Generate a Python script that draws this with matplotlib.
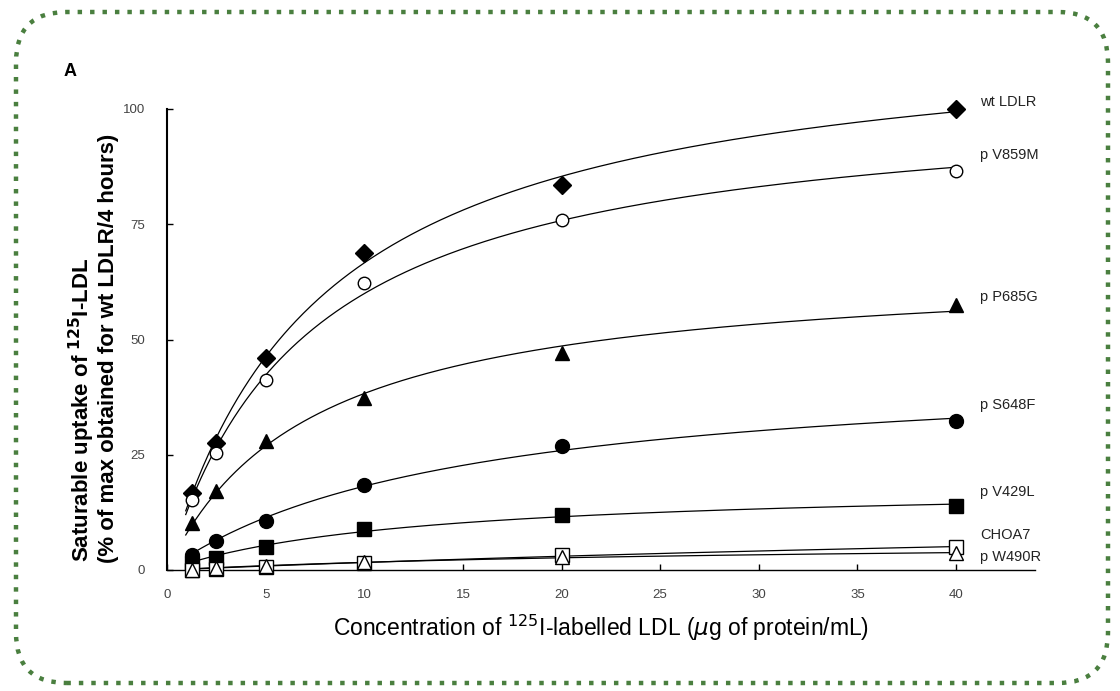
import numpy as np
import matplotlib
matplotlib.use("Agg")
import matplotlib.pyplot as plt
from matplotlib.patches import FancyBboxPatch

plt.rcParams['font.family'] = ['Liberation Sans', 'DejaVu Sans']

# ---------------- data ----------------
conc = [1.25, 2.5, 5, 10, 20, 40]
series_names = ["wt LDLR", "p V859M", "p P685G", "p S648F", "p V429L", "CHOA7", "p W490R"]
wt_ldlr = [16.7, 27.5, 46.0, 68.8, 83.5, 100.0]
p_v859m = [15.2, 25.4, 41.2, 62.3, 76.0, 86.5]
p_p685g = [10.2, 17.1, 28.0, 37.3, 47.0, 57.5]
p_s648f = [3.3, 6.3, 10.6, 18.4, 27.0, 32.3]
p_v429l = [1.5, 2.6, 5.0, 8.9, 12.0, 13.9]
choa7 = [0.0, 0.3, 0.7, 1.5, 3.3, 5.0]
p_w490r = [0.0, 0.4, 0.9, 1.7, 2.8, 3.7]
x_ticks = [0, 5, 10, 15, 20, 25, 30, 35, 40]
y_ticks = [0, 25, 50, 75, 100]

all_series = [wt_ldlr, p_v859m, p_p685g, p_s648f, p_v429l, choa7, p_w490r]

# styles (marker, facecolor)
styles = [("D", "black"), ("o", "white"), ("^", "black"), ("o", "black"),
          ("s", "black"), ("s", "white"), ("^", "white")]
msizes = [9, 9, 10.5, 10, 10, 9.5, 9.5]
label_y = [101.5, 90.0, 59.2, 35.8, 16.9, 7.6, 2.8]


def fit_hyperbola(x, y):
    x = np.asarray(x, float)
    y = np.asarray(y, float)
    best = None
    for K in np.logspace(-1, 3, 2000):
        f = x / (K + x)
        B = np.dot(y, f) / np.dot(f, f)
        err = np.sum((y - B * f) ** 2)
        if best is None or err < best[0]:
            best = (err, B, K)
    return best[1], best[2]


fig = plt.figure(figsize=(11.2, 6.91), dpi=100)
ax = fig.add_axes([167 / 1120, 1 - 570 / 691, (1035 - 167) / 1120, (570 - 109) / 691])

xc = np.linspace(0.95, 40, 400)
for ys, (mk, fc), ms, name, ly in zip(all_series, styles, msizes, series_names, label_y):
    B, K = fit_hyperbola(conc, ys)
    ax.plot(xc, B * xc / (K + xc), color="black", lw=0.9, zorder=2)
    ax.plot(conc, ys, linestyle="none", marker=mk, markersize=ms,
            markerfacecolor=fc, markeredgecolor="black", markeredgewidth=1.0,
            zorder=3, clip_on=False)
    ax.text(41.2, ly, name, fontsize=10.5, color="#222222", va="center", ha="left")

ax.set_xlim(0, 44)
ax.set_ylim(0, 100)
ax.set_xticks(x_ticks)
ax.set_yticks(y_ticks)
ax.set_xticklabels([str(t) for t in x_ticks])
ax.set_yticklabels([str(t) for t in y_ticks])
ax.spines['top'].set_visible(False)
ax.spines['right'].set_visible(False)
ax.spines['left'].set_linewidth(1.5)
ax.spines['bottom'].set_linewidth(1.0)
ax.tick_params(direction='in', length=4, width=1, labelsize=9.5,
               labelcolor="#444444", pad=14)
ax.tick_params(axis='y', pad=16)

ax.set_xlabel("Concentration of $^{125}$I-labelled LDL ($\\mu$g of protein/mL)",
              fontsize=16.5, labelpad=8)

fig.text(82 / 1120, 1 - 562 / 691, "Saturable uptake of $^{\\mathbf{125}}$I-LDL",
         rotation=90, fontsize=16, fontweight="bold", ha="center", va="bottom")
fig.text(109 / 1120, 1 - 563 / 691, "(% of max obtained for wt LDLR/4 hours)",
         rotation=90, fontsize=16, fontweight="bold", ha="center", va="bottom")

fig.text(70 / 1120, 1 - 72 / 691, "A", fontsize=13, fontweight="bold",
         ha="center", va="center")

border = FancyBboxPatch((16 / 1120, 8 / 691), (1108 - 16) / 1120, (679 - 8) / 691,
                        boxstyle="round,pad=0,rounding_size=0.045",
                        transform=fig.transFigure, fill=False,
                        edgecolor="#4a7f3f", linewidth=3.2,
                        linestyle=(0, (1, 1.8)), mutation_aspect=1120 / 691)
fig.patches.append(border)

fig.savefig("out.png", dpi=100)
